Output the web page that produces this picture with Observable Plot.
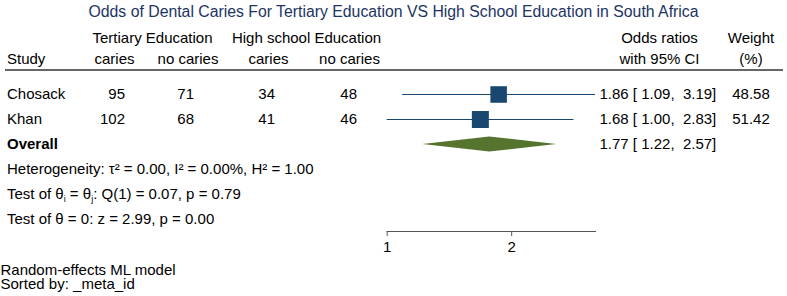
<!DOCTYPE html>
<html>
<head>
<meta charset="utf-8">
<script src="https://cdn.jsdelivr.net/npm/d3@7"></script>
<script src="https://cdn.jsdelivr.net/npm/@observablehq/plot@0.6"></script>
<style>
  body { margin: 0; background: #fff; font-family: "Liberation Sans", Arial, sans-serif; }
  #title { font-size: 15.8px; line-height: 24px; height: 24px; text-align: center; color: #1c3464; white-space: nowrap; }
  #chart svg { display: block; overflow: visible; }
</style>
</head>
<body>
<div id="title"></div>
<div id="chart"></div>
<script>
// ---------------- data ----------------
const chartTitle = "Odds of Dental Caries For Tertiary Education VS High School Education in South Africa";
const groupHeaders = ["Tertiary Education", "High school Education"];
const subHeaders = ["caries", "no caries", "caries", "no caries"];
const studies = ["Chosack", "Khan"];
const tertiaryCaries = [95, 102];
const tertiaryNoCaries = [71, 68];
const highCaries = [34, 41];
const highNoCaries = [48, 46];
const oddsRatio = [1.86, 1.68];
const ciLow = [1.09, 1.00];
const ciHigh = [3.19, 2.83];
const weights = [48.58, 51.42];
const overallLabel = "Overall";
const overallOR = 1.77;
const overallLow = 1.22;
const overallHigh = 2.57;
const statLines = [
  "Heterogeneity: \u03c4\u00b2 = 0.00, I\u00b2 = 0.00%, H\u00b2 = 1.00",
  "Test of \u03b8_i = \u03b8_j: Q(1) = 0.07, p = 0.79",
  "Test of \u03b8 = 0: z = 2.99, p = 0.00"
];
const axisTicks = [1, 2];
const footnotes = ["Random-effects ML model", "Sorted by: _meta_id"];

// ---------------- layout / style ----------------
const W = 787, H = 272;
const ML = 386.7, MR = 192, MB = 65;
const FONT = "Liberation Sans, Arial, Helvetica, sans-serif";
const NAVY = "#1a476f", GREEN = "#55752f";
const colNumEnd = [124.5, 193.5, 274.5, 356.5];
const colSubCenter = [114, 187.5, 268, 349];
const colGroupCenter = [152, 306];
const labelX = 6.5, orStartX = 599, orHeadX = 659, weightX = 750.5;
const head1Y = 14, head2Y = 34.8;
const footDy = [38.9, 52.9];

document.getElementById("title").textContent = chartTitle;

const fmt = d3.format(".2f");
const ciText = (o, l, h) => `${fmt(o)} [ ${fmt(l)}, \u00a0${fmt(h)}]`;

const rows = studies.map((s, i) => ({
  study: s,
  tc: tertiaryCaries[i], tn: tertiaryNoCaries[i], hc: highCaries[i], hn: highNoCaries[i],
  or: oddsRatio[i], lo: ciLow[i], hi: ciHigh[i], w: weights[i],
  ci: ciText(oddsRatio[i], ciLow[i], ciHigh[i]), wt: fmt(weights[i])
}));
const statKeys = statLines.map((_, i) => "stat" + i);
const rowKeys = [...studies, overallLabel, ...statKeys];
const stats = statLines.map((t, i) => ({key: statKeys[i], text: t}));

const numCols = ["tc", "tn", "hc", "hn"];

const headerTop = [
  ...groupHeaders.map((t, i) => ({t, x: colGroupCenter[i]})),
  {t: "Odds ratios", x: orHeadX},
  {t: "Weight", x: weightX}
];
const headerBottom = [
  ...subHeaders.map((t, i) => ({t, x: colSubCenter[i]})),
  {t: "with 95% CI", x: orHeadX},
  {t: "(%)", x: weightX}
];

const textBase = {fontSize: 15, fontFamily: FONT, fill: "#000", lineAnchor: "middle"};

const marks = [
  // header separator
  (index, scales, values, dims) => {
    return d3.create("svg:line")
      .attr("x1", 5).attr("x2", dims.width - 4)
      .attr("y1", 46).attr("y2", 46)
      .attr("stroke", "#333").attr("stroke-width", 1.3).node();
  },
  // headers
  ...headerTop.map(h => Plot.text([h.t], {text: d => d, frameAnchor: "top-left", dx: h.x - ML, dy: head1Y, textAnchor: "middle", ...textBase})),
  Plot.text(["Study"], {text: d => d, frameAnchor: "top-left", dx: labelX - ML, dy: head2Y, textAnchor: "start", ...textBase}),
  ...headerBottom.map(h => Plot.text([h.t], {text: d => d, frameAnchor: "top-left", dx: h.x - ML, dy: head2Y, textAnchor: "middle", ...textBase})),
  // study labels
  Plot.text(rows, {y: "study", text: "study", frameAnchor: "left", dx: labelX - ML, textAnchor: "start", ...textBase}),
  ...numCols.map((c, i) => Plot.text(rows, {y: "study", text: c, frameAnchor: "left", dx: colNumEnd[i] - ML, textAnchor: "end", ...textBase})),
  Plot.text(rows, {y: "study", text: "ci", frameAnchor: "left", dx: orStartX - ML, textAnchor: "start", ...textBase}),
  Plot.text(rows, {y: "study", text: "wt", frameAnchor: "left", dx: weightX - ML, textAnchor: "middle", ...textBase}),
  // overall
  Plot.text([overallLabel], {y: d => d, text: d => d, frameAnchor: "left", dx: labelX - ML, textAnchor: "start", ...textBase, fontWeight: "bold"}),
  Plot.text([overallLabel], {y: d => d, text: () => ciText(overallOR, overallLow, overallHigh), frameAnchor: "left", dx: orStartX - ML, textAnchor: "start", ...textBase}),
  // stats
  Plot.text(stats, {y: "key", text: "text", frameAnchor: "left", dx: labelX - ML, textAnchor: "start", ...textBase}),
  // CI lines and squares
  Plot.ruleY(rows, {y: "study", x1: "lo", x2: "hi", stroke: NAVY, strokeWidth: 1.2}),
  Plot.dot(rows, {x: "or", y: "study", r: "w", symbol: "square", fill: NAVY, stroke: "none"}),
  // overall diamond
  (index, scales) => {
    const {x, y} = scales;
    const cy = y(overallLabel), h = 7.5;
    const pts = [[x(overallLow), cy], [x(overallOR), cy - h], [x(overallHigh), cy], [x(overallOR), cy + h]];
    return d3.create("svg:path").attr("d", "M" + pts.map(p => p.join(",")).join("L") + "Z").attr("fill", GREEN).node();
  },
  // axis
  Plot.frame({anchor: "bottom", stroke: "#555", strokeWidth: 1.2}),
  Plot.axisX({ticks: axisTicks, tickFormat: d => String(d), tickSize: 5, tickPadding: 5, stroke: "#555", fontSize: 15, fontFamily: FONT, fill: "#000", label: null}),
  // footnotes
  ...footnotes.map((f, i) => Plot.text([f], {text: d => d, frameAnchor: "bottom-left", dx: -ML, dy: footDy[i], textAnchor: "start", ...textBase}))
];

const plot = Plot.plot({
  width: W,
  height: H,
  marginLeft: ML,
  marginRight: MR,
  marginTop: 0,
  marginBottom: MB,
  style: {fontFamily: FONT, fontSize: "15px", background: "#fff", color: "#000", overflow: "visible"},
  x: {type: "log", domain: [d3.min(ciLow), d3.max(ciHigh)]},
  y: {type: "point", domain: rowKeys, range: [68.6, 196.3], padding: 0, axis: null},
  r: {type: "sqrt", domain: [0, d3.max(weights)], range: [0, 9.6]},
  marks
});

// subscripts for theta_i / theta_j (only in the stats line)
plot.querySelectorAll("text, tspan").forEach(el => {
  if (el.children.length === 0 && /\u03b8_[ij]/.test(el.textContent)) {
    const parts = el.textContent.split(/(\u03b8_[ij])/);
    el.textContent = "";
    parts.forEach(p => {
      if (/^\u03b8_[ij]$/.test(p)) {
        const base = document.createElementNS("http://www.w3.org/2000/svg", "tspan");
        base.textContent = "\u03b8";
        el.appendChild(base);
        const sub = document.createElementNS("http://www.w3.org/2000/svg", "tspan");
        sub.textContent = p.slice(2);
        sub.setAttribute("font-size", "9");
        sub.setAttribute("baseline-shift", "-3");
        el.appendChild(sub);
      } else if (p) {
        const ts = document.createElementNS("http://www.w3.org/2000/svg", "tspan");
        ts.textContent = p;
        el.appendChild(ts);
      }
    });
  }
});

document.getElementById("chart").appendChild(plot);
</script>
</body>
</html>
